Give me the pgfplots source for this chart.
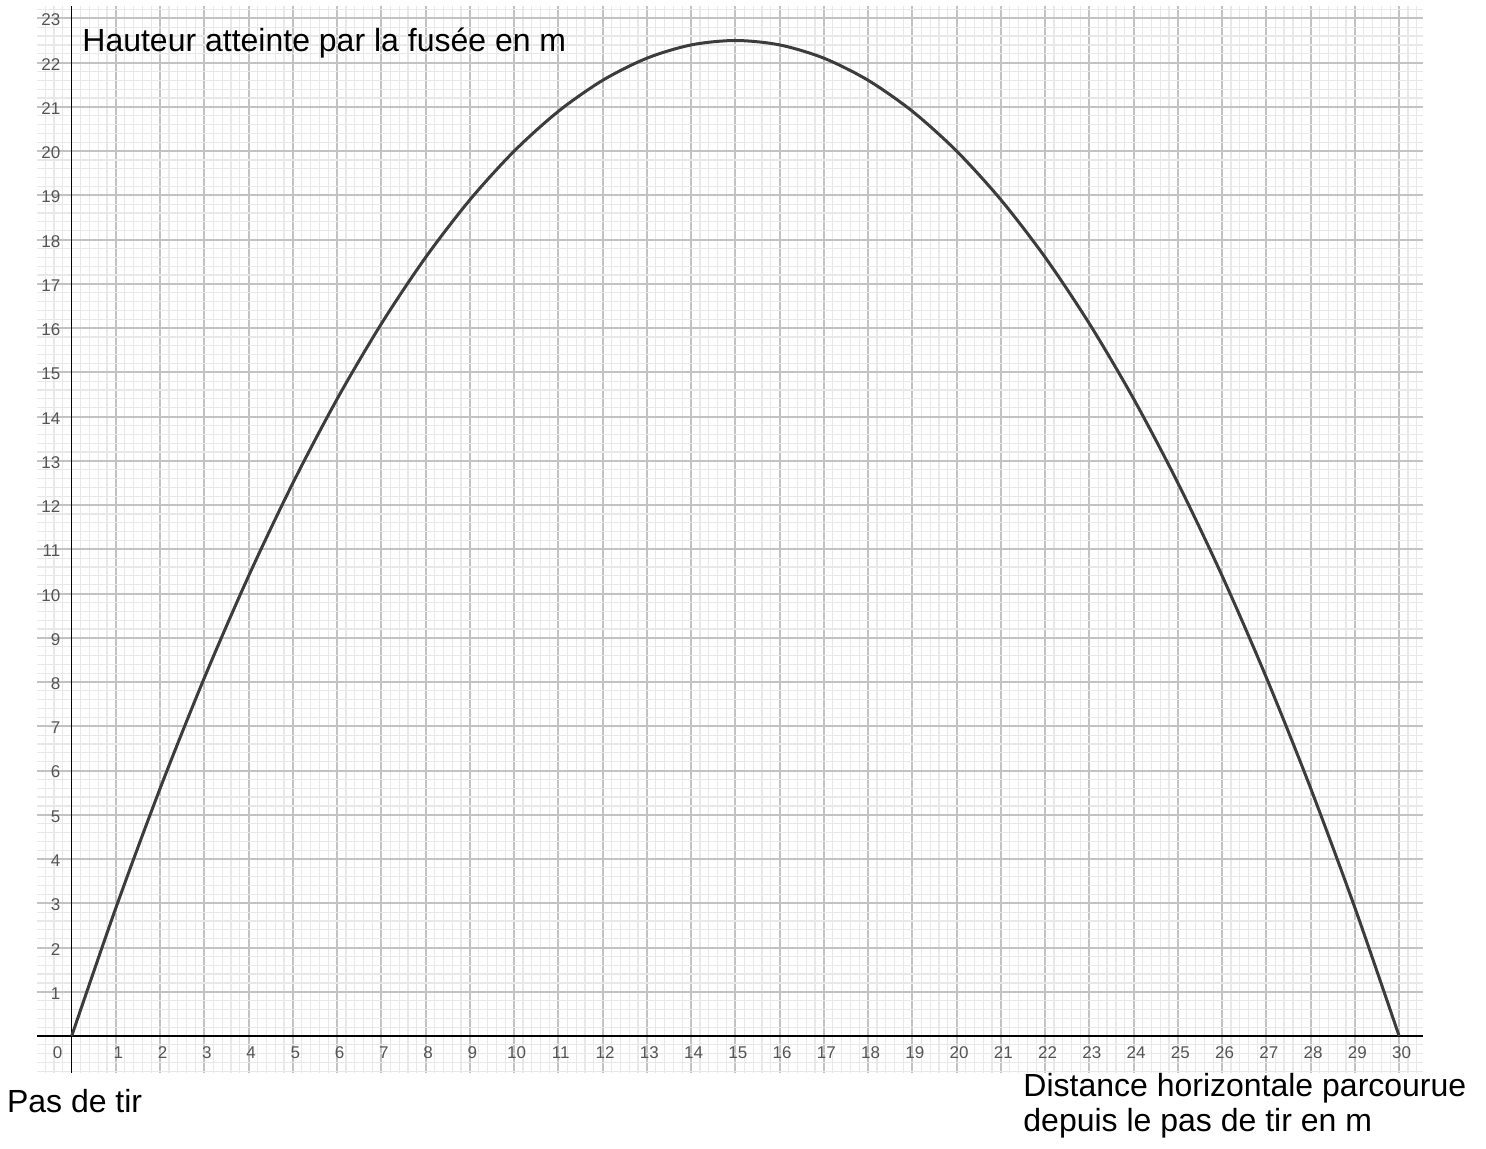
\documentclass[border=0pt]{standalone}
\usepackage{fontspec}
\setmainfont{Liberation Sans}
\usepackage{pgfplots}
\pgfplotsset{compat=1.18}
\definecolor{majgrid}{HTML}{C2C2C2}
\definecolor{mingrid}{HTML}{E8E8E8}
\definecolor{curve}{HTML}{3C3C3C}
\definecolor{ticklab}{HTML}{555555}
\begin{document}
\begin{tikzpicture}
\useasboundingbox (0,0) rectangle (743pt,574.5pt);
\begin{axis}[
  at={(18.5pt,38pt)}, anchor=south west,
  scale only axis, width=693pt, height=533.5pt,
  xmin=-0.784, xmax=30.54, ymin=-0.836, ymax=23.28,
  axis lines=middle,
  axis line style={-, black, line width=0.75pt},
  every inner x axis line/.append style={-},
  every inner y axis line/.append style={-},
  xtick={0,...,30}, ytick={0,...,23},
  xticklabels={{},1,2,3,4,5,6,7,8,9,10,11,12,13,14,15,16,17,18,19,20,21,22,23,24,25,26,27,28,29,30},
  yticklabels={{},1,2,3,4,5,6,7,8,9,10,11,12,13,14,15,16,17,18,19,20,21,22,23},
  minor xtick={-0.6,-0.4,...,30.45},
  minor ytick={-0.8,-0.6,...,23.25},
  grid=both,
  major grid style={color=majgrid, line width=1pt},
  minor grid style={color=mingrid, line width=0.6pt},
  major tick length=0pt, minor tick length=0pt,
  tick style={draw=none},
  /pgf/number format/assume math mode=true,
  ticklabel style={font=\fontsize{8.5}{10}\selectfont, text=ticklab, inner sep=0pt},
  xticklabel style={anchor=north, yshift=-5pt, xshift=1.2pt},
  yticklabel style={anchor=east, xshift=-5.5pt, yshift=-0.8pt},
  axis on top=false,
  clip=true,
]
\addplot[color=curve, line width=1.5pt, smooth] coordinates {
(0,0) (1,2.9) (2,5.6) (3,8.1) (4,10.4) (5,12.5) (6,14.4) (7,16.1) (8,17.6) (9,18.9)
(10,20) (11,20.9) (12,21.6) (13,22.1) (14,22.4) (15,22.5) (16,22.4) (17,22.1) (18,21.6)
(19,20.9) (20,20) (21,18.9) (22,17.6) (23,16.1) (24,14.4) (25,12.5) (26,10.4) (27,8.1)
(28,5.6) (29,2.9) (30,0)
};
\node[font=\fontsize{8.5}{10}\selectfont, text=ticklab, inner sep=0pt, anchor=north, yshift=-5pt] at (axis cs:-0.32,0) {0};
\end{axis}
\node[anchor=base west, inner sep=0pt, font=\fontsize{16}{19}\selectfont] at (41pt,548.5pt) {Hauteur atteinte par la fusée en m};
\node[anchor=base west, inner sep=0pt, font=\fontsize{16}{19}\selectfont] at (3.3pt,18pt) {Pas de tir};
\node[anchor=base west, inner sep=0pt, font=\fontsize{16}{19}\selectfont] at (511.5pt,26.2pt) {Distance horizontale parcourue};
\node[anchor=base west, inner sep=0pt, font=\fontsize{16}{19}\selectfont] at (511.5pt,8.6pt) {depuis le pas de tir en m};
\end{tikzpicture}
\end{document}
